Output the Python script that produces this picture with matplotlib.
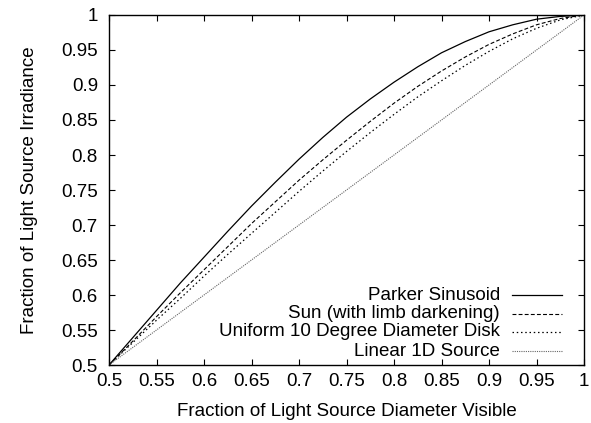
import numpy as np
import matplotlib
matplotlib.use("Agg")
import matplotlib.pyplot as plt

plt.rcParams['font.family'] = ['Liberation Sans', 'DejaVu Sans']

# fraction of source diameter visible
frac_visible = [0.5, 0.525, 0.55, 0.575, 0.6, 0.625, 0.65, 0.675, 0.7, 0.725,
                0.75, 0.775, 0.8, 0.825, 0.85, 0.875, 0.9, 0.925, 0.95, 0.975, 1.0]

parker = [0.5, 0.539, 0.578, 0.617, 0.654, 0.691, 0.727, 0.761, 0.794, 0.825,
          0.854, 0.880, 0.904, 0.926, 0.946, 0.962, 0.976, 0.986, 0.994, 0.998, 1.0]
sun = [0.5, 0.534, 0.569, 0.603, 0.636, 0.669, 0.702, 0.733, 0.764, 0.793,
       0.821, 0.848, 0.874, 0.898, 0.920, 0.940, 0.958, 0.973, 0.986, 0.995, 1.0]
disk = [0.5, 0.532, 0.564, 0.595, 0.627, 0.658, 0.688, 0.718, 0.748, 0.777,
        0.805, 0.832, 0.858, 0.883, 0.906, 0.928, 0.948, 0.966, 0.981, 0.993, 1.0]
linear = [0.5, 0.525, 0.55, 0.575, 0.6, 0.625, 0.65, 0.675, 0.7, 0.725,
          0.75, 0.775, 0.8, 0.825, 0.85, 0.875, 0.9, 0.925, 0.95, 0.975, 1.0]

labels = ["Parker Sinusoid", "Sun (with limb darkening)",
          "Uniform 10 Degree Diameter Disk", "Linear 1D Source"]
styles = [dict(color='black', ls='-', lw=0.9),
          dict(color='black', ls=(0, (3.5, 2)), lw=0.8),
          dict(color='black', ls=(0, (1.2, 2.2)), lw=0.9),
          dict(color='#666666', ls=(0, (1, 1)), lw=0.8)]

fs = 13.5
fig = plt.figure(figsize=(5.91, 4.23), dpi=100)
ax = fig.add_axes([109 / 591, 58 / 423, 475 / 591, 350 / 423])

series = [parker, sun, disk, linear]
for ys, st in zip(series, styles):
    ax.plot(frac_visible, ys, **st)

ax.set_xlim(0.5, 1.0)
ax.set_ylim(0.5, 1.0)
ticks = np.arange(0.5, 1.001, 0.05)
ax.set_xticks(ticks)
ax.set_yticks(ticks)
tl = ['0.5', '0.55', '0.6', '0.65', '0.7', '0.75', '0.8', '0.85', '0.9', '0.95', '1']
ax.set_xticklabels(tl)
ax.set_yticklabels(tl)
ax.tick_params(direction='in', length=4, width=0.8, top=True, right=True,
               labelsize=fs)
ax.tick_params(axis='x', pad=6)
ax.tick_params(axis='y', pad=8)
for sp in ax.spines.values():
    sp.set_linewidth(1.0)

ax.set_xlabel("Fraction of Light Source Diameter Visible", fontsize=fs, labelpad=9)
ax.set_ylabel("Fraction of Light Source Irradiance", fontsize=fs, labelpad=17)

# gnuplot style key, text right aligned left of the sample line
key_y = [295, 313.5, 332, 351]
for lab, st, yp in zip(labels, styles, key_y):
    yy = 1 - (yp - 15) / 350
    ax.text((500 - 109) / 475, yy, lab, transform=ax.transAxes, ha='right',
            va='center', fontsize=fs)
    ax.plot([(512 - 109) / 475, (562 - 109) / 475], [yy, yy],
            transform=ax.transAxes, **st)

fig.savefig("out.png", dpi=100)
